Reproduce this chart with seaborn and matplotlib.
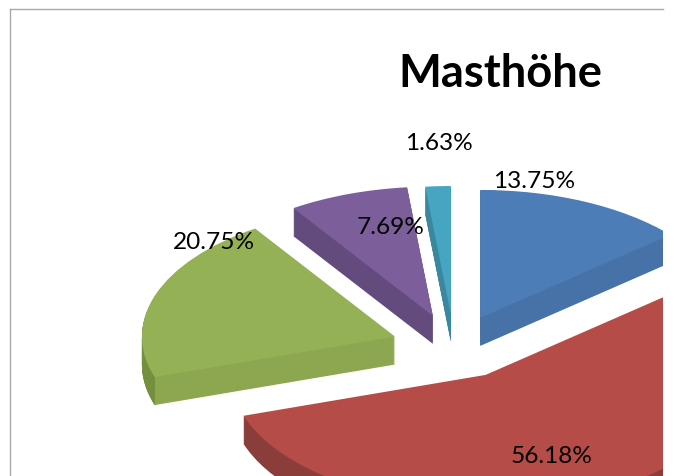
import matplotlib
matplotlib.use("Agg")
import matplotlib.pyplot as plt
from matplotlib.path import Path
import seaborn as sns

# -----------------------
# Chart data
# -----------------------

title = "Masthöhe"
shares = [13.75, 56.18, 20.75, 7.69, 1.63]
share_labels = ["13.75%", "56.18%", "20.75%", "7.69%", "1.63%"]

top_colors = ["#4c7db6", "#b54c48", "#95b156", "#7c5f9a", "#46a5c0"]
side_colors = ["#4672a8", "#8a3d3a", "#8ca74f", "#634c7d", "#3a879e"]
green_outer = "#74903f"

# where the text sits, in pixels of the picture
label_pos = [(534, 182), (552, 457), (214, 243), (391, 228), (439, 144)]
title_pos = (500, 74)

W, H = 673, 477
CX, CY = 454, 346
RX, RY = 250, 128
DEPTH = 28
EXPLODE = 0.25
GREEN = 2

# slices are not quite the same size in the perspective of the original
radii = [1.0, 1.02, 1.012, 1.01, 1.0]
shifts_px = [(0, 2), (1, 2), (0, 2), (0, 1), (0, 1)]

sns.set_theme(style="white")
plt.rcParams["font.family"] = ["Lato", "DejaVu Sans"]

fig = plt.figure(figsize=(W / 100, H / 100), dpi=100)
ax = fig.add_axes([10 / W, 0, 653 / W, 467 / H])


def draw_slice(n, color, depth_px=0):
    colors = [color if i == n else "none" for i in range(len(shares))]
    wedges, _ = ax.pie(
        shares,
        colors=colors,
        explode=[EXPLODE] * len(shares),
        startangle=90,
        counterclock=False,
        radius=radii[n],
        center=(shifts_px[n][0] / RX, -(shifts_px[n][1] + depth_px) / RY),
        frame=True,
        wedgeprops={"linewidth": 0, "clip_on": True},
    )
    return wedges[n]


# -----------------------
# Stack each slice for depth
# -----------------------

corner_x = (155 - CX) / RX
left_of_corner = Path([(-3, -3), (corner_x, -3), (corner_x, 3), (-3, 3), (-3, -3)])

for n in [4, 3, 0, 2, 1]:
    for k in range(DEPTH, 0, -1):
        draw_slice(n, side_colors[n], k)
    # the curved outer wall of the green slice is darker
    if n == GREEN:
        for k in range(DEPTH, 0, -1):
            wall = draw_slice(n, green_outer, k)
            wall.set_clip_path(left_of_corner, ax.transData)
    draw_slice(n, top_colors[n])

# -----------------------
# Frame and scales
# -----------------------

ax.set_aspect("auto")
ax.set_xlim((10 - CX) / RX, (663 - CX) / RX)
ax.set_ylim((CY - 477) / RY, (CY - 10) / RY)
ax.set_xticks([])
ax.set_yticks([])

for side in ["right", "bottom"]:
    ax.spines[side].set_visible(False)
for side in ["left", "top"]:
    ax.spines[side].set_visible(True)
    ax.spines[side].set_color("#a6a9ad")
    ax.spines[side].set_linewidth(1.0)

# -----------------------
# Text
# -----------------------

for text, (px, py) in zip(share_labels, label_pos):
    fig.text(px / W, 1 - py / H, text, ha="center", va="center", fontsize=17.6, color="black")

fig.text(title_pos[0] / W, 1 - title_pos[1] / H, title, ha="center", va="center",
         fontsize=32.7, fontweight="bold", color="black")

fig.savefig("out.png", dpi=100)
plt.close(fig)
